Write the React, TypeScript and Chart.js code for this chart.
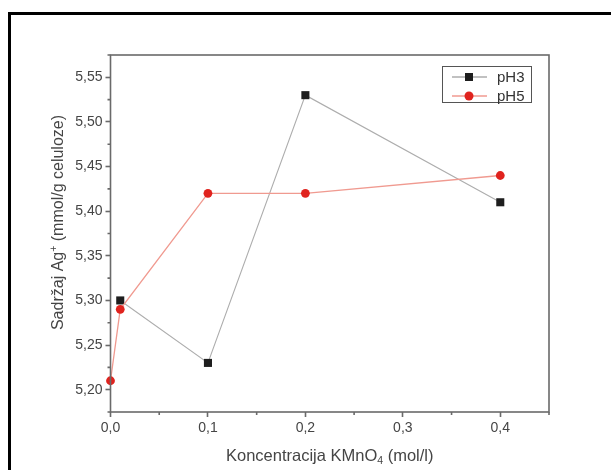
import { useEffect, useRef } from "react";
import { Chart, registerables } from "chart.js";

Chart.register(...registerables);

const seriesNames = ["pH3", "pH5"];
const xPH3 = [0.01, 0.1, 0.2, 0.4];
const yPH3 = [5.3, 5.23, 5.53, 5.41];
const xPH5 = [0, 0.01, 0.1, 0.2, 0.4];
const yPH5 = [5.21, 5.29, 5.42, 5.42, 5.44];
const xTicks = [0, 0.1, 0.2, 0.3, 0.4];
const yTicks = [5.2, 5.25, 5.3, 5.35, 5.4, 5.45, 5.5, 5.55];
const xMinor = [0.05, 0.15, 0.25, 0.35, 0.45];
const yMinor = [5.175, 5.225, 5.275, 5.325, 5.375, 5.425, 5.475, 5.525, 5.575];

const FONT = "'Liberation Sans', Arial, sans-serif";
const AXIS = "#6a6a6a";
const TEXT = "#454545";
const PH3_LINE = "#adadad";
const PH3_MARK = "#1e1e1e";
const PH5_LINE = "#f09a90";
const PH5_MARK = "#e0231e";

const decor = {
  id: "decor",
  afterDatasetsDraw(chart: any) {
    const ctx = chart.ctx;
    const { left, right, top, bottom } = chart.chartArea;
    const xs = chart.scales.x;
    const ys = chart.scales.y;
    ctx.save();
    ctx.strokeStyle = AXIS;
    ctx.lineWidth = 1.6;
    ctx.strokeRect(left, top, right - left, bottom - top);
    ctx.beginPath();
    for (const v of xMinor) {
      const px = xs.getPixelForValue(v);
      ctx.moveTo(px, bottom);
      ctx.lineTo(px, bottom + 3);
    }
    for (const v of yMinor) {
      const py = ys.getPixelForValue(v);
      ctx.moveTo(left, py);
      ctx.lineTo(left - 3, py);
    }
    ctx.stroke();

    // legend
    ctx.lineWidth = 1;
    ctx.strokeStyle = "#555";
    ctx.strokeRect(442.5, 66.5, 89, 36);
    const rows = [
      { name: seriesNames[0], line: PH3_LINE, mark: PH3_MARK, rect: true, y: 77 },
      { name: seriesNames[1], line: PH5_LINE, mark: PH5_MARK, rect: false, y: 96 },
    ];
    for (const r of rows) {
      ctx.strokeStyle = r.line;
      ctx.lineWidth = 1.3;
      ctx.beginPath();
      ctx.moveTo(452, r.y);
      ctx.lineTo(487, r.y);
      ctx.stroke();
      ctx.fillStyle = r.mark;
      if (r.rect) {
        ctx.fillRect(465, r.y - 4, 8, 8);
      } else {
        ctx.beginPath();
        ctx.arc(469, r.y, 4.5, 0, Math.PI * 2);
        ctx.fill();
      }
      ctx.fillStyle = "#333";
      ctx.font = `15px ${FONT}`;
      ctx.textAlign = "left";
      ctx.textBaseline = "middle";
      ctx.fillText(r.name, 497, r.y + 0.5);
    }

    // x title
    ctx.fillStyle = TEXT;
    ctx.textBaseline = "alphabetic";
    const bigX = `16.5px ${FONT}`;
    const bigY = `16px ${FONT}`;
    const small = `10.5px ${FONT}`;
    const xa = "Koncentracija KMnO";
    const xb = "4";
    const xc = " (mol/l)";
    ctx.font = bigX;
    const wa = ctx.measureText(xa).width;
    const wc = ctx.measureText(xc).width;
    ctx.font = small;
    const wb = ctx.measureText(xb).width;
    const cx = (left + right) / 2;
    let sx = cx - (wa + wb + wc) / 2;
    const by = 461;
    ctx.textAlign = "left";
    ctx.font = bigX;
    ctx.fillText(xa, sx, by);
    ctx.font = small;
    ctx.fillText(xb, sx + wa, by + 3);
    ctx.font = bigX;
    ctx.fillText(xc, sx + wa + wb, by);

    // y title
    const ya = "Sadržaj Ag";
    const yb = "+";
    const yc = " (mmol/g celuloze)";
    ctx.font = bigY;
    const ua = ctx.measureText(ya).width;
    const uc = ctx.measureText(yc).width;
    ctx.font = small;
    const ub = ctx.measureText(yb).width;
    ctx.translate(63, 222.5);
    ctx.rotate(-Math.PI / 2);
    sx = -(ua + ub + uc) / 2;
    ctx.font = bigY;
    ctx.fillText(ya, sx, 0);
    ctx.font = small;
    ctx.fillText(yb, sx + ua, -6.5);
    ctx.font = bigY;
    ctx.fillText(yc, sx + ua + ub, 0);
    ctx.restore();
  },
};

export default function App() {
  const ref = useRef<HTMLCanvasElement | null>(null);
  useEffect(() => {
    document.body.style.margin = "0";
    const canvas = ref.current;
    if (!canvas) return;
    const chart = new Chart(canvas, {
      type: "line",
      data: {
        datasets: [
          {
            label: seriesNames[0],
            data: xPH3.map((x, i) => ({ x, y: yPH3[i] })),
            borderColor: PH3_LINE,
            borderWidth: 1.1,
            pointStyle: "rect",
            pointRadius: 5.7,
            pointBackgroundColor: PH3_MARK,
            pointBorderColor: PH3_MARK,
            pointBorderWidth: 0,
            order: 1,
            clip: false as any,
          },
          {
            label: seriesNames[1],
            data: xPH5.map((x, i) => ({ x, y: yPH5[i] })),
            borderColor: PH5_LINE,
            borderWidth: 1.3,
            pointStyle: "circle",
            pointRadius: 4.4,
            pointBackgroundColor: PH5_MARK,
            pointBorderColor: PH5_MARK,
            pointBorderWidth: 0,
            order: 0,
            clip: false as any,
          },
        ],
      },
      options: {
        animation: false,
        responsive: false,
        events: [],
        layout: { padding: { top: 55, right: 62, left: 0, bottom: 0 } },
        plugins: { legend: { display: false }, tooltip: { enabled: false } },
        scales: {
          x: {
            type: "linear",
            min: 0,
            max: 0.45,
            afterBuildTicks: (s: any) => {
              s.ticks = xTicks.map((v) => ({ value: v }));
            },
            afterFit: (s: any) => {
              s.height = 58;
            },
            grid: {
              drawOnChartArea: false,
              drawTicks: true,
              tickLength: 5,
              tickColor: AXIS,
              tickWidth: 1.6,
            },
            border: { display: false },
            ticks: {
              padding: 3,
              color: TEXT,
              font: { family: FONT, size: 14 },
              maxRotation: 0,
              autoSkip: false,
              callback: (v: any) => Number(v).toFixed(1).replace(".", ","),
            },
          },
          y: {
            type: "linear",
            min: 5.175,
            max: 5.575,
            afterBuildTicks: (s: any) => {
              s.ticks = yTicks.map((v) => ({ value: v }));
            },
            afterFit: (s: any) => {
              s.width = 110.5;
            },
            grid: {
              drawOnChartArea: false,
              drawTicks: true,
              tickLength: 5,
              tickColor: AXIS,
              tickWidth: 1.6,
            },
            border: { display: false },
            ticks: {
              padding: 3,
              color: TEXT,
              font: { family: FONT, size: 14 },
              autoSkip: false,
              callback: (v: any) => Number(v).toFixed(2).replace(".", ","),
            },
          },
        },
      },
      plugins: [decor],
    });
    return () => chart.destroy();
  }, []);

  return (
    <div
      style={{
        position: "relative",
        width: 611,
        height: 470,
        overflow: "hidden",
        background: "#fff",
      }}
    >
      <div
        style={{
          position: "absolute",
          left: 8,
          top: 12,
          width: 700,
          height: 600,
          border: "3px solid #000",
          boxSizing: "border-box",
        }}
      />
      <canvas
        ref={ref}
        width={611}
        height={470}
        style={{ position: "absolute", left: 0, top: 0 }}
      />
    </div>
  );
}
